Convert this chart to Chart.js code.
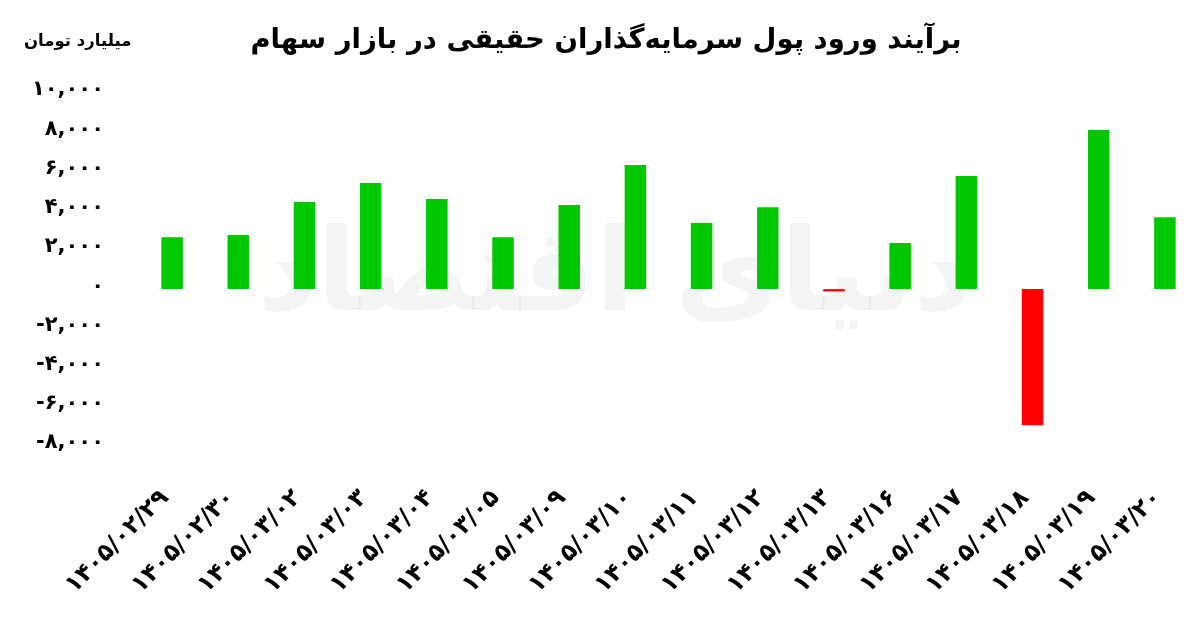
<!DOCTYPE html>
<html lang="fa">
<head>
<meta charset="utf-8">
<script src="https://cdn.jsdelivr.net/npm/chart.js@4.4.1/dist/chart.umd.min.js"></script>
<style>
  html,body{margin:0;padding:0;background:#fff;}
  #wrap{position:relative;width:1200px;height:619px;overflow:hidden;}
  #title{position:absolute;left:0;right:0;top:22px;text-align:center;direction:rtl;
    font:bold 27.5px "DejaVu Sans",sans-serif;color:#000;padding-left:12px;}
  #unit{position:absolute;left:24px;top:31px;direction:rtl;
    font:bold 16.5px "DejaVu Sans",sans-serif;color:#000;}
  canvas{position:absolute;left:0;top:0;}
</style>
</head>
<body>
<div id="wrap">
  <canvas id="chart" width="1200" height="619"></canvas>
  <div id="title">برآیند ورود پول سرمایه‌گذاران حقیقی در بازار سهام</div>
  <div id="unit">میلیارد تومان</div>
</div>
<script>
// dates (Jalali) and net inflow of retail investors, billion toman
const dates = ['۱۴۰۵/۰۲/۲۹','۱۴۰۵/۰۲/۳۰','۱۴۰۵/۰۳/۰۲','۱۴۰۵/۰۳/۰۳','۱۴۰۵/۰۳/۰۴','۱۴۰۵/۰۳/۰۵','۱۴۰۵/۰۳/۰۹','۱۴۰۵/۰۳/۱۰',
               '۱۴۰۵/۰۳/۱۱','۱۴۰۵/۰۳/۱۲','۱۴۰۵/۰۳/۱۳','۱۴۰۵/۰۳/۱۶','۱۴۰۵/۰۳/۱۷','۱۴۰۵/۰۳/۱۸','۱۴۰۵/۰۳/۱۹','۱۴۰۵/۰۳/۲۰'];
const inflow = [2650, 2760, 4440, 5410, 4590, 2650, 4290, 6330, 3370, 4180, -120, 2350, 5770, -6940, 8110, 3670];
const yMin = -8000, yMax = 10000, yStep = 2000;

const GREEN = '#00c800', RED = '#ff0000';
const FONT = '"DejaVu Sans", sans-serif';

const faDigits = '۰۱۲۳۴۵۶۷۸۹';
const toFa = s => String(s).replace(/\d/g, d => faDigits[d]);
const fmt = v => (v<0?'-':'') + toFa(Math.abs(v).toLocaleString('en-US'));

// faint logo text behind bars
const watermark = {
  id:'watermark',
  beforeDatasetsDraw(chart){
    const {ctx} = chart;
    ctx.save();
    ctx.font = 'bold 115px ' + FONT;
    ctx.fillStyle = 'rgba(0,0,0,0.045)';
    ctx.textAlign = 'center'; ctx.textBaseline = 'middle';
    ctx.direction = 'rtl';
    ctx.fillText('دنیای اقتصاد', 615, 280);
    ctx.restore();
  }
};

new Chart(document.getElementById('chart'), {
  type:'bar',
  data:{
    labels: dates,
    datasets:[{
      data: inflow,
      backgroundColor: c => (c.raw < 0 ? RED : GREEN),
      borderWidth:0,
      barPercentage:0.325,
      categoryPercentage:1
    }]
  },
  options:{
    responsive:false,
    animation:false,
    layout:{padding:{top:93, right:2, left:0, bottom:0}},
    plugins:{legend:{display:false}, tooltip:{enabled:false}},
    scales:{
      x:{
        grid:{display:false, drawTicks:false},
        border:{display:false},
        ticks:{color:'#000', font:{family:FONT, size:24, weight:'bold'}, maxRotation:45, minRotation:45,
               padding:38, labelOffset:-7, autoSkip:false},
        afterFit(s){ s.height = 619 - 446; s.paddingLeft = 0; s.paddingRight = 0; }
      },
      y:{
        min:yMin, max:yMax,
        grid:{display:false, drawTicks:false},
        border:{display:false},
        ticks:{stepSize:yStep, color:'#000', font:{family:FONT, size:21, weight:'bold'}, padding:35, labelOffset:-3,
               callback:v => fmt(v)},
        afterFit(s){ s.width = 139; }
      }
    }
  },
  plugins:[watermark]
});
</script>
</body>
</html>
